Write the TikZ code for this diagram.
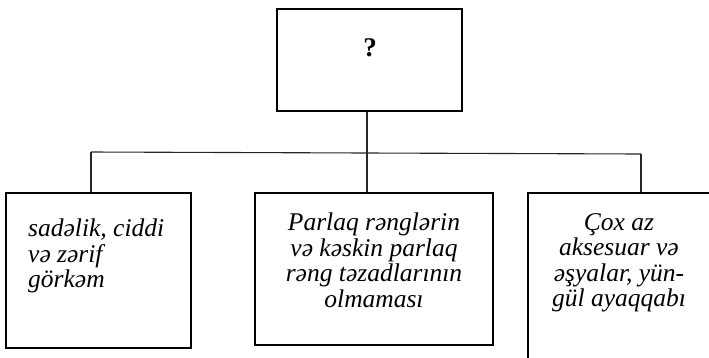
\documentclass[tikz,border=0pt]{standalone}
\usepackage{fontspec}
\setmainfont{Liberation Serif}
\begin{document}
\begin{tikzpicture}[x=1pt,y=-1pt,
  box/.style={draw=black,line width=2.3pt,rectangle,inner sep=0pt},
  conn/.style={draw=black!85,line width=1.1pt},
  txt/.style={font=\fontsize{25.5}{25.5}\selectfont\itshape,inner sep=0pt},
]
\useasboundingbox (0,0) rectangle (709,357);
\clip (0,0) rectangle (709,357);
% boxes
\node[box,minimum width=185pt,minimum height=102pt] (top) at (369.5,60) {};
\node[font=\fontsize{27}{27}\selectfont\bfseries] (q) at (370,48) {?};
\node[box,minimum width=185pt,minimum height=155pt] (b1) at (98.5,270.5) {};
\node[box,minimum width=238pt,minimum height=152pt] (b2) at (374,269) {};
\node[box,minimum width=200pt,minimum height=190pt] (b3) at (628,288) {};
% texts
\node[txt,align=left,anchor=north west] (t1) at (28,219) {sadəlik, ciddi\\və zərif\\görkəm};
\node[txt,align=center,anchor=north] (t2) at (374,213) {Parlaq rənglərin\\və kəskin parlaq\\rəng təzadlarının\\olmaması};
\node[txt,align=center,anchor=north] (t3) at (619,213) {Çox az\\aksesuar və\\əşyalar, yün-\\gül ayaqqabı};
% connectors
\coordinate (hl) at (91,152);
\coordinate (hm) at (367,153);
\coordinate (hr) at (641,154);
\draw[conn] (top.south -| hm) -- (hm);
\draw[conn] (hl) -- (hm) -- (hr);
\draw[conn] (hl) -- (hl |- b1.north);
\draw[conn] (hm) -- (hm |- b2.north);
\draw[conn] (hr) -- (hr |- b3.north);
\end{tikzpicture}
\end{document}
